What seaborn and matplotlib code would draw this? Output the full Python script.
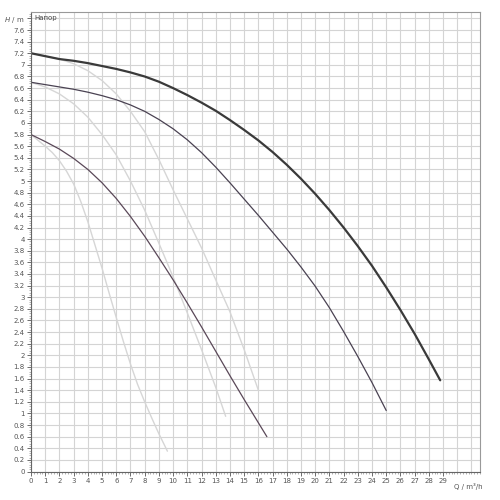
import matplotlib
matplotlib.use("Agg")
import matplotlib.pyplot as plt
from matplotlib.ticker import MultipleLocator
import seaborn as sns
import pandas as pd

# Pump curves: Q (m3/h) vs H (m)
q1 = [0, 1, 2, 3, 4, 5, 6, 7, 8, 9, 10, 11, 12, 13, 14, 15, 16, 17, 18, 19,
      20, 21, 22, 23, 24, 25, 26, 27, 28, 28.8]
h1 = [7.2, 7.15, 7.1, 7.07, 7.03, 6.98, 6.93, 6.87, 6.8, 6.71, 6.6, 6.48, 6.35,
      6.21, 6.05, 5.88, 5.7, 5.5, 5.28, 5.04, 4.78, 4.5, 4.2, 3.88, 3.54, 3.17,
      2.78, 2.37, 1.93, 1.57]

q2 = [0, 1, 2, 3, 4, 5, 6, 7, 8, 9, 10, 11, 12, 13, 14, 15, 16, 17, 18, 19,
      20, 21, 22, 23, 24, 25]
h2 = [6.7, 6.66, 6.62, 6.58, 6.53, 6.47, 6.4, 6.31, 6.2, 6.06, 5.9, 5.71, 5.49,
      5.24, 4.97, 4.69, 4.41, 4.12, 3.83, 3.52, 3.19, 2.82, 2.41, 1.98, 1.53, 1.05]

q3 = [0, 1, 2, 3, 4, 5, 6, 7, 8, 9, 10, 11, 12, 13, 14, 15, 16]
h3 = [7.2, 7.15, 7.1, 7.02, 6.9, 6.73, 6.5, 6.2, 5.85, 5.37, 4.85, 4.35, 3.85,
      3.3, 2.75, 2.1, 1.4]

q4 = [0, 1, 2, 3, 4, 5, 6, 7, 8, 9, 10, 11, 12, 13, 13.7]
h4 = [6.7, 6.62, 6.5, 6.33, 6.1, 5.8, 5.45, 5.0, 4.5, 3.93, 3.35, 2.73, 2.1,
      1.45, 0.95]

q5 = [0, 1, 2, 3, 4, 5, 6, 7, 8, 9, 10, 11, 12, 13, 14, 15, 16, 16.6]
h5 = [5.8, 5.68, 5.55, 5.39, 5.2, 4.97, 4.7, 4.39, 4.05, 3.68, 3.3, 2.9, 2.49,
      2.07, 1.65, 1.24, 0.84, 0.6]

q6 = [0, 0.5, 1, 1.5, 2, 2.5, 3, 3.5, 4, 4.5, 5, 5.5, 6, 6.5, 7, 7.5, 8, 8.5,
      9, 9.6]
h6 = [5.8, 5.7, 5.6, 5.49, 5.35, 5.17, 4.95, 4.65, 4.3, 3.9, 3.5, 3.07, 2.65,
      2.24, 1.85, 1.5, 1.2, 0.92, 0.65, 0.35]

curves = [
    (q3, h3, "#d6d6d6", 1.0),
    (q4, h4, "#d6d6d6", 1.0),
    (q6, h6, "#d6d6d6", 1.0),
    (q1, h1, "#3a3a3a", 1.6),
    (q2, h2, "#4a4252", 0.9),
    (q5, h5, "#5a4858", 0.9),
]

sns.set_style("white")
fig = plt.figure(figsize=(5, 5), dpi=100)
ax = fig.add_axes([0.062, 0.057, 0.898, 0.919])

for q, h, c, lw in curves:
    df = pd.DataFrame({"Q": q, "H": h})
    sns.lineplot(data=df, x="Q", y="H", color=c, linewidth=lw, ax=ax, sort=False,
                 solid_joinstyle="round", solid_capstyle="round")

ax.set_xlim(0, 31.6)
ax.set_ylim(0, 7.91)

xt = list(range(0, 30))
ax.set_xticks(xt)
ax.set_xticklabels([str(v) for v in xt])
ax.xaxis.set_minor_locator(MultipleLocator(0.2))

yt = [round(0.2 * i, 1) for i in range(0, 40)]
ylabels = []
for v in yt:
    if abs(v - 7.8) < 1e-6:
        ylabels.append("$H$ / m")
    elif float(v).is_integer():
        ylabels.append(str(int(v)))
    else:
        ylabels.append(str(v))
ax.set_yticks(yt)
ax.set_yticklabels(ylabels)
ax.yaxis.set_minor_locator(MultipleLocator(0.04))

# grid
for v in range(0, 32):
    ax.axvline(v, color="#d4d4d4", lw=0.8, zorder=0)
for v in yt:
    ax.axhline(v, color="#d4d4d4", lw=0.8, zorder=0)

ax.tick_params(axis="both", which="major", labelsize=5, colors="#555555",
               length=3, width=0.6, pad=1.5)
ax.tick_params(axis="both", which="minor", length=1.5, width=0.4, colors="#777777")
ax.tick_params(axis="x", bottom=True, which="both")
ax.tick_params(axis="y", left=True, which="both")
for t in ax.get_xticklabels() + ax.get_yticklabels():
    t.set_color("#555555")

for s in ax.spines.values():
    s.set_color("#999999")
    s.set_linewidth(0.8)
ax.spines["left"].set_color("#666666")
ax.spines["bottom"].set_color("#666666")

ax.set_xlabel("")
ax.set_ylabel("")

ax.text(0.25, 7.8, "Напор", fontsize=5, color="#444444", va="center", ha="left")
ax.text(30.75, -0.19, "Q / m³/h", fontsize=5, color="#555555", va="top", ha="center",
        clip_on=False)

fig.savefig("out.png", dpi=100)
